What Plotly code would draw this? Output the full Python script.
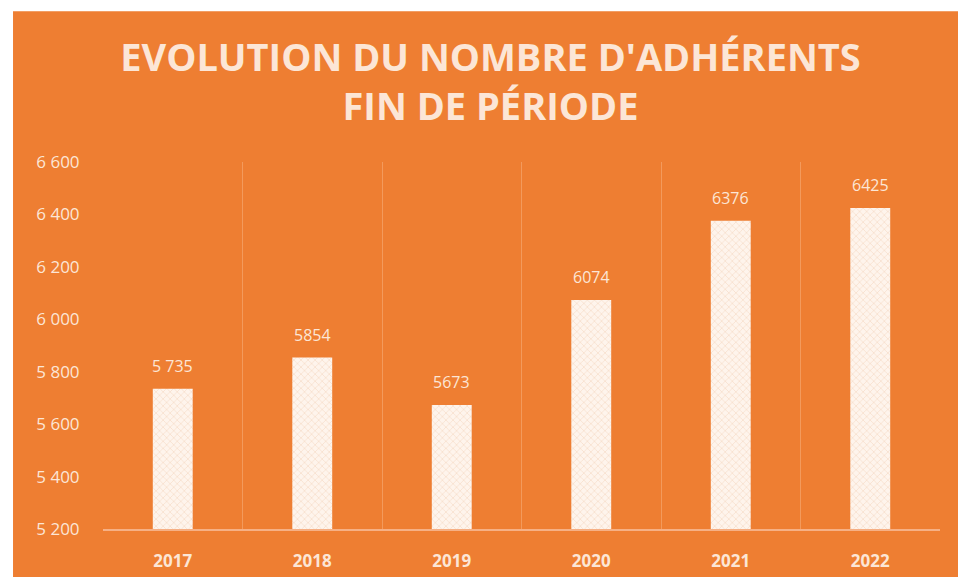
import plotly.graph_objects as go

years = ["2017", "2018", "2019", "2020", "2021", "2022"]
members = [5735, 5854, 5673, 6074, 6376, 6425]
value_labels = ["5 735", "5854", "5673", "6074", "6376", "6425"]
y_ticks = [5200, 5400, 5600, 5800, 6000, 6200, 6400, 6600]

ORANGE = "#EE7E32"
CREAM = "#FCE6D6"
GRID = "#F39A5C"

fig = go.Figure()
fig.add_trace(go.Bar(
    x=years, y=members,
    marker=dict(
        color="#FDF1E8",
        line=dict(width=0),
        pattern=dict(shape="x", fgcolor="#F2CDB2", bgcolor="#FEF4EC",
                     size=5, solidity=0.3, fillmode="overlay"),
    ),
    hoverinfo="x+y",
))

for i, (v, lab) in enumerate(zip(members, value_labels)):
    fig.add_annotation(x=i, y=v, text=lab, showarrow=False, yshift=23,
                       font=dict(family="Open Sans, sans-serif", size=16, color=CREAM))

# white frame strips (top and left)
fig.add_shape(type="rect", xref="paper", yref="paper", x0=-0.2, x1=1.1,
              y0=1.411, y1=1.5, fillcolor="white", line=dict(width=0), layer="below")
fig.add_shape(type="rect", xref="paper", yref="paper", x0=-0.2, x1=-0.1075,
              y0=-0.2, y1=1.5, fillcolor="white", line=dict(width=0), layer="below")

fig.update_layout(
    width=958, height=577,
    margin=dict(l=103, r=18, t=162, b=48),
    paper_bgcolor=ORANGE, plot_bgcolor=ORANGE,
    separators=", ",
    bargap=0.714,
    showlegend=False,
    title=dict(
        text="EVOLUTION DU NOMBRE D'ADHÉRENTS<br>FIN DE PÉRIODE",
        x=0.512, xanchor="center", y=0.877, yanchor="middle",
        font=dict(family="Open Sans, sans-serif", size=38, color=CREAM, weight="bold"),
    ),
    xaxis=dict(
        type="category", tickson="boundaries", range=[-0.5, 5.5],
        showgrid=True, gridcolor=GRID, gridwidth=1,
        showline=True, linecolor="#F6B085", linewidth=1.5,
        ticks="", ticklabelstandoff=16,
        tickangle=0, automargin=False,
        tickfont=dict(family="Open Sans, sans-serif", size=17, color=CREAM, weight="bold"),
    ),
    yaxis=dict(
        range=[5200, 6600], tickvals=y_ticks, tickformat=",d",
        showgrid=False, zeroline=False, showline=False,
        ticks="outside", ticklen=19, tickcolor="rgba(0,0,0,0)", automargin=False,
        tickfont=dict(family="Open Sans, sans-serif", size=17, color=CREAM),
    ),
)

fig.write_html("out.html", config={"displayModeBar": False},
               post_script="document.body.style.margin='0';")
